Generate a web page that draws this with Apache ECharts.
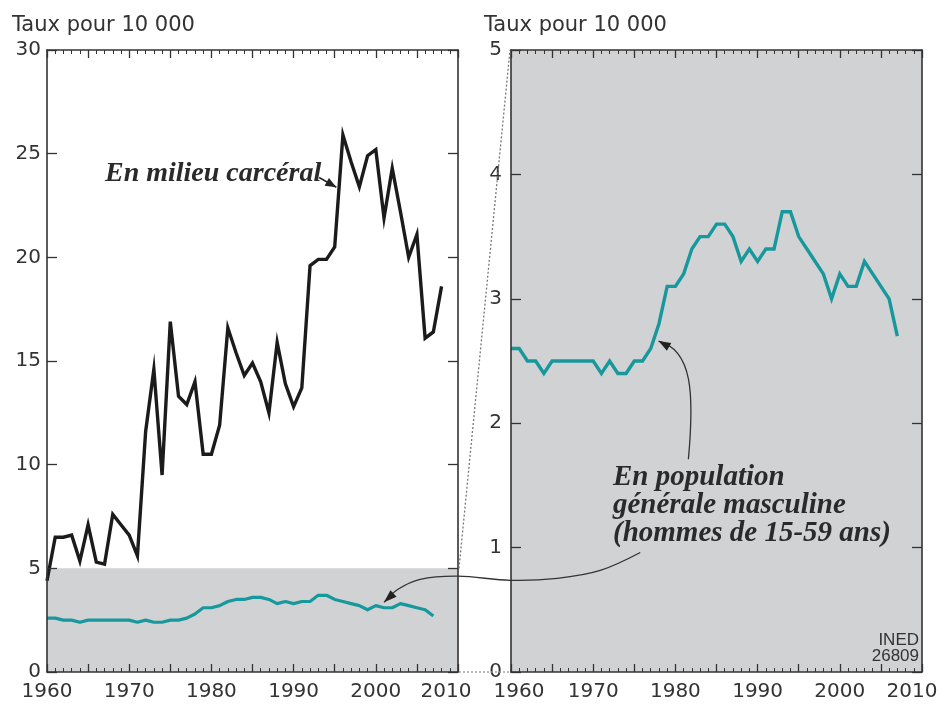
<!DOCTYPE html>
<html><head><meta charset="utf-8">
<script src="https://cdn.jsdelivr.net/npm/echarts@6/dist/echarts.min.js"></script>
<style>html,body{margin:0;padding:0;background:#fff}#c{width:941px;height:706px}</style>
</head><body><div id="c"></div>
<script>
// ---- data ----
const startYear = 1960;
const prisonRates = [4.4, 6.5, 6.5, 6.6, 5.35, 7.1, 5.3, 5.2, 7.6, 7.1, 6.6, 5.6, 11.6, 14.6, 9.5, 16.9, 13.3, 12.9, 14.0, 10.5,
  10.5, 11.9, 16.6, 15.4, 14.3, 14.9, 14.0, 12.5, 15.9, 13.9, 12.8, 13.7, 19.6, 19.9, 19.9, 20.5, 25.9, 24.6, 23.4, 24.9,
  25.2, 21.9, 24.3, 22.2, 20.0, 21.1, 16.1, 16.4, 18.6];
const populationRates = [2.6, 2.6, 2.5, 2.5, 2.4, 2.5, 2.5, 2.5, 2.5, 2.5, 2.5, 2.4, 2.5, 2.4, 2.4, 2.5, 2.5, 2.6, 2.8, 3.1,
  3.1, 3.2, 3.4, 3.5, 3.5, 3.6, 3.6, 3.5, 3.3, 3.4, 3.3, 3.4, 3.4, 3.7, 3.7, 3.5, 3.4, 3.3, 3.2, 3.0,
  3.2, 3.1, 3.1, 3.3, 3.2, 3.1, 3.0, 2.7];
const xTickLabels = [1960, 1970, 1980, 1990, 2000, 2010];
const leftYTicks = [0, 5, 10, 15, 20, 25, 30];
const rightYTicks = [0, 1, 2, 3, 4, 5];
const zoomBand = [0, 5];

const prisonData = prisonRates.map((v, i) => [startYear + i, v]);
const popData = populationRates.map((v, i) => [startYear + i, v]);

const AX = '#333';
const GRAY = '#d1d2d4';
const TEAL = '#17989d';
const NUM_FONT = 'DejaVu Sans';
const FIRST = xTickLabels[0], LAST = xTickLabels[xTickLabels.length - 1];

// edge labels that are nudged sideways (drawn separately below): [xAxisIndex, value, shift px]
const nudged = [[0, LAST, -12], [2, FIRST, 8], [2, LAST, -10]];

function xAx(idx, grid, pos, labels) {
  return {
    type: 'value', gridIndex: grid, position: pos, min: FIRST, max: LAST, interval: 5,
    z: 10,
    axisLine: { show: true, onZero: false, lineStyle: { color: AX, width: 1.6 } },
    axisTick: { show: true, inside: true, length: 8, lineStyle: { color: AX, width: 1.3 } },
    minorTick: { show: true, splitNumber: 5, length: 4, lineStyle: { color: AX, width: 1 } },
    splitLine: { show: false },
    axisLabel: {
      show: labels, margin: 10, color: AX, fontFamily: NUM_FONT, fontSize: 20,
      formatter: v => {
        if (xTickLabels.indexOf(v) < 0) return '';
        if (nudged.some(n => n[0] === idx && n[1] === v)) return '';
        return String(v);
      }
    }
  };
}
function yAx(grid, pos, ticks, labels, margin) {
  return {
    type: 'value', gridIndex: grid, position: pos, min: ticks[0], max: ticks[ticks.length - 1],
    interval: ticks[1] - ticks[0], z: 10,
    axisLine: { show: true, onZero: false, lineStyle: { color: AX, width: 1.6 } },
    axisTick: { show: true, inside: true, length: 10, lineStyle: { color: AX, width: 1.3 } },
    splitLine: { show: false },
    axisLabel: { show: labels, margin: margin, color: AX, fontFamily: NUM_FONT, fontSize: 20 }
  };
}

const chart = echarts.init(document.getElementById('c'), null, { renderer: 'canvas' });
chart.setOption({
  animation: false,
  backgroundColor: '#fff',
  grid: [
    { left: 47, top: 50, width: 411, height: 622, show: true, backgroundColor: '#fff', borderWidth: 0, containLabel: false, outerBoundsMode: 'none' },
    { left: 511, top: 50, width: 411, height: 622, show: true, backgroundColor: GRAY, borderWidth: 0, containLabel: false, outerBoundsMode: 'none' }
  ],
  xAxis: [xAx(0, 0, 'bottom', true), xAx(1, 0, 'top', false), xAx(2, 1, 'bottom', true), xAx(3, 1, 'top', false)],
  yAxis: [yAx(0, 'left', leftYTicks, true, 6), yAx(0, 'right', leftYTicks, false, 6),
          yAx(1, 'left', rightYTicks, true, 9), yAx(1, 'right', rightYTicks, false, 9)],
  series: [
    { type: 'line', xAxisIndex: 0, yAxisIndex: 0, z: 1, data: [[startYear, 0]], symbol: 'none', silent: true,
      lineStyle: { width: 0, opacity: 0 },
      markArea: { silent: true, itemStyle: { color: GRAY }, data: [[{ coord: [FIRST, zoomBand[0]] }, { coord: [LAST, zoomBand[1]] }]] } },
    { type: 'line', xAxisIndex: 0, yAxisIndex: 0, z: 3, data: popData, symbol: 'none',
      lineStyle: { color: TEAL, width: 3.2, join: 'round' } },
    { type: 'line', xAxisIndex: 0, yAxisIndex: 0, z: 4, data: prisonData, symbol: 'none',
      lineStyle: { color: '#1b1b1b', width: 3.4, join: 'miter' } },
    { type: 'line', xAxisIndex: 2, yAxisIndex: 2, z: 3, data: popData, symbol: 'none',
      lineStyle: { color: TEAL, width: 3.4, join: 'miter' } }
  ]
});

// ---- annotations (positions given in data coordinates of the grids) ----
const P = (g, x, y) => chart.convertToPixel({ xAxisIndex: g === 0 ? 0 : 2, yAxisIndex: g === 0 ? 0 : 2 }, [x, y]);
function head(tip, from, L, w, color) {
  const dx = tip[0] - from[0], dy = tip[1] - from[1], d = Math.hypot(dx, dy);
  const ux = dx / d, uy = dy / d, bx = tip[0] - ux * L, by = tip[1] - uy * L;
  return { type: 'polygon', z: 20, shape: { points: [tip, [bx - uy * w, by + ux * w], [bx + uy * w, by - ux * w]] }, style: { fill: color } };
}
const g = [];
// nudged edge tick labels
nudged.forEach(n => {
  const p = P(n[0] === 0 ? 0 : 1, n[1], 0);
  g.push({ type: 'text', x: p[0] + n[2], y: p[1] + 10, z: 20, style: { text: String(n[1]), fontFamily: NUM_FONT, fontSize: 20, fill: AX, align: 'center', verticalAlign: 'top' } });
});
// connector dotted lines
const a1 = P(0, LAST, 5), b1 = P(1, FIRST, 5), a0 = P(0, LAST, 0), b0 = P(1, FIRST, 0);
g.push({ type: 'line', z: 15, shape: { x1: a1[0] + 1, y1: a1[1], x2: b1[0] - 1, y2: b1[1] }, style: { stroke: '#777', lineWidth: 1.3, lineDash: [2, 2] } });
g.push({ type: 'line', z: 15, shape: { x1: a0[0] + 1, y1: a0[1], x2: b0[0] - 1, y2: b0[1] }, style: { stroke: '#999', lineWidth: 1.3, lineDash: [2, 2] } });
// titles
g.push({ type: 'text', left: 12, top: 15, z: 20, style: { text: 'Taux pour 10 000', fontFamily: NUM_FONT, fontSize: 21, fill: AX } });
g.push({ type: 'text', left: 484, top: 15, z: 20, style: { text: 'Taux pour 10 000', fontFamily: NUM_FONT, fontSize: 21, fill: AX } });
// labels
const SERIF = '"Liberation Serif", "DejaVu Serif", serif';
g.push({ type: 'text', x: 105, y: 160, z: 20, style: { text: 'En milieu carcéral', font: 'italic bold 28px ' + SERIF, fill: '#2a2a2a', verticalAlign: 'top' } });
g.push({ type: 'text', x: 613, y: 464, z: 20, style: { text: 'En population\ngénérale masculine\n(hommes de 15-59 ans)', font: 'italic bold 29px ' + SERIF, lineHeight: 28, fill: '#2a2a2a', verticalAlign: 'top' } });
g.push({ type: 'text', x: 919, y: 632, z: 20, style: { text: 'INED\n26809', fontFamily: '"Liberation Sans Narrow", "Liberation Sans"', fontSize: 17, lineHeight: 16, fill: AX, align: 'right', verticalAlign: 'top' } });
// arrow: prison
const cs = P(0, 1993.1, 23.85), ct = P(0, 1995.2, 23.38);
g.push({ type: 'line', z: 20, shape: { x1: cs[0], y1: cs[1], x2: ct[0], y2: ct[1] }, style: { stroke: '#222', lineWidth: 1.5 } });
g.push(head(ct, cs, 11, 4.5, '#222'));
// arrow: right panel
const r0 = P(1, 1981.58, 1.71), r1 = P(1, 1982.3, 2.23), r2 = P(1, 1982.1, 2.59), r3 = P(1, 1977.95, 2.66);
g.push({ type: 'bezierCurve', z: 20, shape: { x1: r0[0], y1: r0[1], x2: r3[0], y2: r3[1], cpx1: r1[0], cpy1: r1[1], cpx2: r2[0], cpy2: r2[1] }, style: { stroke: '#333', lineWidth: 1.3, fill: null } });
g.push(head(r3, P(1, 1979.6, 2.60), 12, 4.5, '#222'));
// long arrow to left panel
const lp = [P(1, 1975.73, 0.961), P(1, 1970.86, 0.817), P(1, 1965.63, 0.753), P(1, 1959.9, 0.737),
  P(0, 2009.99, 4.62), P(0, 2005.4, 4.47), P(0, 2002.7, 3.99), P(0, 2001.0, 3.36)];
g.push({ type: 'polyline', z: 20, shape: { points: lp, smooth: 0.35 }, style: { stroke: '#333', lineWidth: 1.3, fill: null } });
g.push(head(lp[lp.length - 1], lp[lp.length - 2], 13, 4.5, '#222'));
chart.setOption({ graphic: g });
</script></body></html>
